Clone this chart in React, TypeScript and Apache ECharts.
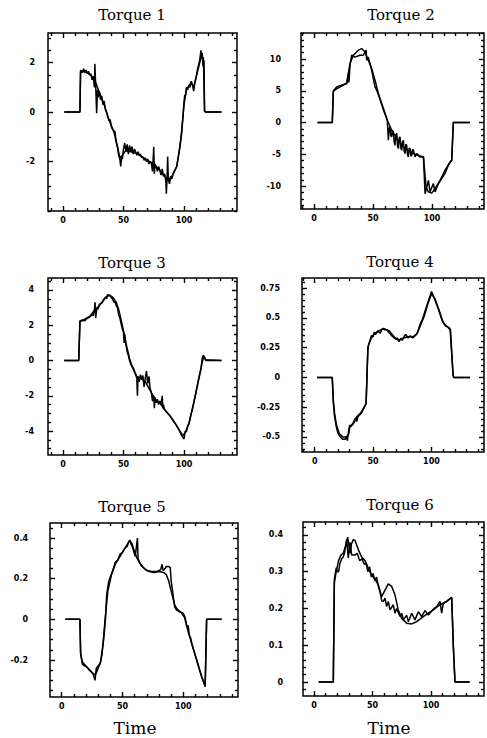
import React, { useEffect, useRef } from "react";
import * as echarts from "echarts";

// ---------- data ----------
const titles = ["Torque 1", "Torque 2", "Torque 3", "Torque 4", "Torque 5", "Torque 6"];
const xAxisTitle = "Time";
const xTicks = [0, 50, 100];
const yTicks1 = [-2, 0, 2];
const yTicks2 = [-10, -5, 0, 5, 10];
const yTicks3 = [-4, -2, 0, 2, 4];
const yTicks4 = [-0.5, -0.25, 0, 0.25, 0.5, 0.75];
const yTicks5 = [-0.2, 0, 0.2, 0.4];
const yTicks6 = [0, 0.1, 0.2, 0.3, 0.4];

// Torque 1
const t1Model: [number, number][] = [[1,0],[14,0],[14.5,1.6],[16,1.65],[20,1.6],[24,1.45],[27,1.2],[30,0.8],[34,0.3],[38,-0.3],[42,-0.8],[45,-1.4],[47,-1.85],[49,-1.75],[52,-1.55],[56,-1.6],[60,-1.65],[65,-1.8],[70,-1.95],[75,-2.1],[80,-2.35],[84,-2.6],[87,-2.75],[90,-2.6],[94,-2.2],[97,-1.3],[100,0.3],[102,0.9],[106,1.2],[108,1.0],[111,1.6],[114,2.2],[116,2.2],[117,0.05],[118,0],[131,0]];
const t1Meas: [number, number][] = [[1,0],[14,0],[14.5,1.7],[16,1.6],[17,1.75],[18,1.6],[19,1.7],[20,1.55],[21,1.65],[22,1.5],[23,1.55],[24,1.3],[25,1.45],[26,1.0],[26.3,1.95],[27,1.1],[27.8,-0.05],[28.5,0.9],[29,0.6],[30,0.85],[31,0.5],[32,0.65],[33,0.3],[34,0.45],[35,0.1],[36,0.0],[37,-0.2],[38,-0.35],[39,-0.3],[40,-0.6],[41,-0.7],[42,-0.75],[43,-0.8],[44,-1.2],[45,-1.4],[46,-1.75],[47,-1.9],[47.7,-2.2],[48.5,-1.8],[49,-1.9],[50,-1.5],[51,-1.25],[52,-1.6],[53,-1.3],[54,-1.7],[55,-1.35],[56,-1.6],[57,-1.4],[58,-1.7],[59,-1.5],[60,-1.6],[61,-1.75],[62,-1.6],[63,-1.75],[64,-1.7],[65,-1.85],[66,-1.8],[67,-1.95],[68,-1.85],[69,-2.0],[70,-1.9],[71,-2.1],[72,-2.0],[73,-2.05],[74,-2.4],[75,-1.4],[75.5,-2.5],[76,-2.1],[77,-2.2],[78,-2.4],[79,-2.2],[80,-2.35],[81,-2.55],[82,-2.3],[83,-2.6],[84,-2.5],[85,-2.8],[85.4,-3.3],[86,-2.7],[86.5,-1.8],[87,-2.7],[88,-2.9],[89,-2.6],[90,-2.7],[91,-2.5],[92,-2.4],[93,-2.3],[94,-2.2],[95,-1.9],[96,-1.6],[97,-1.2],[98,-0.9],[99,-0.3],[100,0.4],[100.6,0.7],[101,0.6],[102,1.0],[103,0.9],[104,1.1],[105,1.0],[106,1.25],[107,1.1],[108,0.85],[109,1.2],[110,1.4],[111,1.7],[112,1.9],[113,2.1],[114,2.5],[114.5,2.2],[115,2.4],[115.7,1.85],[116.5,2.1],[117,0.03],[118,0],[131,0]];

// Torque 2
const t2Model: [number, number][] = [[3,0],[15.5,0],[16.4,4.9],[19,5.3],[23,5.7],[27.7,6.2],[30.5,9.3],[33.3,10.6],[37.6,11.4],[40.4,11.65],[43.2,11.1],[46,9.8],[48.9,8.5],[51.7,6.67],[54.5,4.57],[58.8,2.2],[62.1,0.37],[65.8,-1.2],[70,-2.5],[75.7,-3.8],[81.4,-4.6],[87,-5.1],[92.7,-5.4],[94.9,-10.1],[96.9,-10.9],[99.7,-11.1],[102.5,-10.4],[106.8,-9.1],[111,-7.5],[115.3,-6.2],[116.7,-5.9],[118,0],[132,0]];
const t2Meas: [number, number][] = [[3,0],[15.5,0],[16.4,5.0],[19.2,5.6],[23.4,5.9],[27.7,6.1],[29.1,7.7],[29.6,6.3],[30.5,9.0],[31.9,10.6],[34.7,10.3],[38.9,10.6],[41.8,10.6],[44.1,11.4],[44.6,9.8],[46,10.3],[48.9,8.2],[51.7,5.6],[52.5,5.35],[55,4.2],[58.8,2.0],[62.1,0.4],[63,-2.79],[63.7,-0.9],[64.4,-0.68],[65.1,-2.0],[65.8,-2.26],[66.5,-1.2],[67.2,-1.47],[67.9,-3.0],[68.6,-3.57],[69.3,-1.9],[70.1,-1.73],[70.8,-3.7],[71.5,-4.1],[72.2,-2.4],[72.9,-2.26],[73.6,-4.0],[74.3,-4.36],[75,-3.0],[75.7,-2.79],[76.4,-4.5],[77.1,-4.88],[77.8,-3.4],[78.5,-3.57],[79.2,-5.0],[79.9,-5.4],[80.6,-4.0],[81.4,-4.1],[82.1,-5.3],[82.8,-5.14],[83.5,-4.2],[84.2,-4.36],[85.6,-5.4],[87,-4.88],[89.8,-5.4],[92.7,-5.4],[94.1,-11.2],[96.9,-9.1],[98.3,-10.9],[101.1,-9.6],[102.5,-10.9],[105.4,-9.6],[108.2,-8.8],[111,-8.0],[113.8,-6.7],[116.7,-5.9],[118,0],[132,0]];

// Torque 3
const t3Model: [number, number][] = [[1,0],[13,0],[14,2.2],[17,2.3],[22,2.5],[26,2.85],[30,3.1],[34,3.5],[38,3.72],[41,3.6],[44,3.3],[46,2.9],[49,2.0],[52,1.0],[55,0.1],[58,-0.5],[61,-0.9],[64,-1.0],[68,-1.2],[72,-1.7],[76,-2.2],[80,-2.4],[84,-2.8],[88,-3.1],[92,-3.5],[96,-3.95],[99,-4.25],[101,-4.1],[104,-3.6],[107,-2.7],[110,-1.8],[113,-0.8],[115,-0.1],[116.5,0.25],[118,0.05],[131,0]];
const t3Meas: [number, number][] = [[1,0],[13,0],[14,2.25],[16,2.3],[18,2.25],[20,2.4],[22,2.45],[24,2.6],[25,2.55],[26,2.9],[26.5,3.3],[27,2.4],[28,3.0],[29,2.9],[30,3.2],[32,3.25],[34,3.45],[35,3.6],[36,3.5],[37,3.75],[38,3.65],[39,3.7],[40,3.55],[41,3.5],[42,3.3],[43,3.35],[44,3.1],[45,3.0],[46,2.6],[47,2.4],[48,2.1],[49,1.8],[50,1.6],[50.5,1.0],[51,1.5],[52,0.9],[53,0.5],[54,0.3],[55,0.0],[56,-0.2],[57,-0.35],[58,-0.4],[59,-0.6],[60,-0.8],[61,-1.0],[61.5,-2.0],[62,-0.9],[63,-1.2],[64,-0.8],[65,-1.1],[66,-0.85],[67,-1.5],[68,-1.0],[69,-0.6],[70,-1.3],[71,-0.9],[72,-1.6],[73,-1.8],[74,-2.3],[75,-2.0],[75.5,-2.7],[76,-2.1],[77,-2.4],[78,-2.2],[79,-2.5],[80,-2.3],[81,-2.5],[82,-2.0],[82.5,-2.7],[83,-2.5],[84,-2.8],[86,-2.95],[88,-3.1],[90,-3.3],[92,-3.5],[94,-3.7],[96,-3.95],[98,-4.25],[99,-4.35],[100,-4.45],[101,-4.0],[102,-4.05],[103,-3.7],[104,-3.6],[106,-3.0],[107,-2.75],[109,-2.1],[111,-1.4],[113,-0.75],[114,-0.5],[115,0.1],[116,0.3],[117,0.15],[118,0],[131,0]];

// Torque 4
const t4Model: [number, number][] = [[2,0],[15,0],[16,-0.2],[17,-0.3],[18.6,-0.4],[21,-0.47],[24,-0.5],[27,-0.5],[29,-0.48],[30,-0.42],[33,-0.39],[36,-0.33],[40,-0.29],[44,-0.22],[45.5,0.22],[46,0.27],[48.5,0.33],[51,0.37],[55,0.39],[59,0.41],[64,0.39],[68,0.34],[72,0.31],[76,0.33],[80,0.34],[84,0.34],[87,0.36],[90,0.42],[94,0.52],[97,0.62],[100,0.7],[103,0.66],[107,0.55],[110,0.46],[114,0.42],[116,0.4],[118.5,0.02],[119,0],[133,0]];
const t4Meas: [number, number][] = [[2,0],[15,0],[16,-0.22],[17,-0.33],[18.6,-0.42],[20,-0.47],[22,-0.5],[24,-0.52],[26,-0.52],[27,-0.5],[28,-0.53],[29,-0.45],[30,-0.4],[31,-0.41],[33,-0.38],[35,-0.34],[36,-0.37],[37,-0.33],[40,-0.3],[44,-0.22],[45.5,0.25],[47,0.3],[48.5,0.35],[50,0.34],[51,0.38],[52,0.36],[54,0.39],[56,0.37],[58,0.41],[60,0.4],[62,0.4],[64,0.37],[66,0.35],[68,0.33],[70,0.32],[71,0.33],[72,0.3],[74,0.33],[75,0.31],[77,0.35],[78,0.36],[80,0.33],[82,0.35],[84,0.33],[86,0.35],[88,0.37],[90,0.44],[92,0.48],[94,0.54],[97,0.63],[99,0.69],[100,0.72],[101,0.7],[103,0.65],[106,0.57],[109,0.48],[112,0.43],[115,0.42],[116.3,0.4],[118.5,0.02],[119,0],[133,0]];

// Torque 5
const t5Model: [number, number][] = [[3,0],[15,0],[15.6,-0.17],[17,-0.21],[20,-0.23],[23,-0.25],[26,-0.27],[28,-0.27],[30,-0.24],[32,-0.21],[34,-0.12],[36,0.02],[38,0.14],[41,0.22],[44,0.27],[47,0.3],[50,0.33],[53,0.36],[56,0.39],[58,0.37],[60,0.33],[62,0.3],[65,0.27],[68,0.25],[72,0.235],[76,0.23],[80,0.235],[84,0.23],[86,0.22],[88,0.19],[90,0.14],[93,0.07],[95,0.05],[98,0.035],[101,0.01],[104,-0.06],[107,-0.12],[111,-0.2],[115,-0.28],[118,-0.33],[119.2,0],[131.5,0]];
const t5Meas: [number, number][] = [[3,0],[15,0],[15.6,-0.17],[17,-0.22],[19,-0.23],[21,-0.235],[23,-0.25],[25,-0.26],[26,-0.27],[27.4,-0.3],[28.5,-0.24],[30,-0.23],[31.5,-0.22],[33,-0.18],[34.5,-0.1],[36,0.0],[37,0.12],[38.5,0.18],[40,0.21],[42,0.24],[44,0.28],[46,0.29],[48,0.32],[50,0.33],[52,0.35],[54,0.36],[55,0.38],[56,0.385],[57,0.37],[58,0.36],[59,0.34],[60.5,0.31],[62.3,0.4],[62.8,0.3],[64,0.28],[66,0.26],[68,0.25],[70,0.24],[74,0.235],[78,0.235],[80,0.24],[81.5,0.245],[82.5,0.27],[83.5,0.24],[85,0.25],[86,0.26],[88,0.26],[89.3,0.255],[90,0.19],[91,0.15],[92,0.1],[93,0.06],[94.5,0.045],[96,0.04],[98,0.035],[100,0.03],[101.5,0.01],[103,-0.04],[104,-0.03],[105,-0.08],[106,-0.09],[107,-0.12],[109,-0.16],[111,-0.2],[113,-0.24],[115,-0.28],[117,-0.31],[118,-0.33],[119.2,0],[131.5,0]];

// Torque 6
const t6Model: [number, number][] = [[4,0],[16.5,0],[17.4,0.27],[19,0.3],[21,0.33],[23,0.345],[25,0.35],[27,0.37],[28.8,0.394],[30.8,0.35],[32,0.375],[33.6,0.387],[35,0.385],[37.9,0.36],[40.7,0.34],[43.6,0.33],[46.4,0.31],[49.3,0.29],[52,0.28],[55,0.264],[57.8,0.232],[60.7,0.25],[63.5,0.267],[66.4,0.26],[69.2,0.237],[72,0.196],[74.9,0.173],[79.2,0.16],[83.5,0.158],[87.7,0.164],[93.4,0.178],[97.7,0.187],[102,0.196],[107.7,0.21],[113.4,0.219],[117.7,0.23],[119.1,0.096],[120.5,0],[133,0]];
const t6Meas: [number, number][] = [[4,0],[16.5,0],[17.4,0.28],[19,0.31],[20,0.3],[21,0.3],[22,0.32],[23.6,0.335],[25,0.34],[26,0.35],[27.9,0.387],[29.3,0.337],[30.8,0.38],[32.2,0.345],[35,0.345],[37,0.35],[39,0.33],[41,0.335],[43,0.32],[44.6,0.322],[46,0.3],[47.5,0.313],[49,0.286],[50.5,0.295],[52,0.276],[53.5,0.285],[55,0.26],[56.4,0.245],[58,0.22],[59.3,0.219],[60.7,0.228],[62.1,0.205],[63.5,0.219],[65,0.196],[67.8,0.21],[69.2,0.187],[70.6,0.2],[73.5,0.178],[74.9,0.187],[76.4,0.169],[79.2,0.182],[80.6,0.164],[83.5,0.187],[86.3,0.169],[89.2,0.191],[92,0.178],[94.9,0.194],[97.7,0.182],[102,0.198],[104.8,0.205],[107.7,0.219],[109.1,0.187],[110.5,0.214],[113.4,0.219],[117.7,0.23],[119.1,0.096],[120.5,0],[133,0]];

// ---------- layout ----------
const W = 487;
const H = 738;

type Panel = {
  model: [number, number][];
  meas: [number, number][];
  yTicks: number[];
  yMinorStep: number;
  grid: { left: number; top: number; width: number; height: number };
  xRange: [number, number];
  yRange: [number, number];
  titlePos: [number, number];
  yLabelMargin: number;
};

const panels: Panel[] = [
  { model: t1Model, meas: t1Meas, yTicks: yTicks1, yMinorStep: 0.5, grid: { left: 48, top: 33, width: 189, height: 178 }, xRange: [-12.4, 143.8], yRange: [-4, 3.2], titlePos: [132, 15], yLabelMargin: 13 },
  { model: t2Model, meas: t2Meas, yTicks: yTicks2, yMinorStep: 1, grid: { left: 301, top: 33, width: 183, height: 176 }, xRange: [-11, 144], yRange: [-13.6, 14.1], titlePos: [401, 15], yLabelMargin: 20 },
  { model: t3Model, meas: t3Meas, yTicks: yTicks3, yMinorStep: 0.5, grid: { left: 48, top: 278, width: 189, height: 177 }, xRange: [-12.4, 143.8], yRange: [-5.36, 4.68], titlePos: [132, 263], yLabelMargin: 14 },
  { model: t4Model, meas: t4Meas, yTicks: yTicks4, yMinorStep: 0.05, grid: { left: 302, top: 278, width: 182, height: 174 }, xRange: [-10.9, 145], yRange: [-0.626, 0.834], titlePos: [400, 262], yLabelMargin: 22 },
  { model: t5Model, meas: t5Meas, yTicks: yTicks5, yMinorStep: 0.05, grid: { left: 50, top: 523, width: 188, height: 174 }, xRange: [-9.6, 145], yRange: [-0.382, 0.474], titlePos: [132, 507], yLabelMargin: 22 },
  { model: t6Model, meas: t6Meas, yTicks: yTicks6, yMinorStep: 0.02, grid: { left: 303, top: 522, width: 181, height: 174 }, xRange: [-9.4, 145.3], yRange: [-0.038, 0.435], titlePos: [400, 505], yLabelMargin: 20 },
];
const timeLabelPos: [number, number][] = [[135, 728], [389, 728]];

function minorValues(lo: number, hi: number, step: number, majors: number[]) {
  const out: number[] = [];
  const start = Math.ceil(lo / step);
  const end = Math.floor(hi / step);
  for (let k = start; k <= end; k++) {
    const v = +(k * step).toFixed(6);
    if (!majors.some((m) => Math.abs(m - v) < 1e-9)) out.push(v);
  }
  return out;
}

const labelFont = { fontFamily: "DejaVu Sans", fontWeight: "bold" as const, fontSize: 8, color: "#000" };
const tickLine = { color: "#000", width: 1.4 };

function buildOption() {
  const grid: any[] = [];
  const xAxis: any[] = [];
  const yAxis: any[] = [];
  const series: any[] = [];
  const graphic: any[] = [];

  panels.forEach((p, i) => {
    grid.push({
      ...p.grid,
      show: true,
      borderColor: "#000",
      borderWidth: 1.5,
      backgroundColor: "transparent",
      containLabel: false,
    });
    const xMinor = minorValues(p.xRange[0], p.xRange[1], 10, xTicks);
    const yMinor = minorValues(p.yRange[0], p.yRange[1], p.yMinorStep, p.yTicks);
    const xDefs = [
      { pos: "bottom", vals: xTicks, len: 5, label: true },
      { pos: "top", vals: xTicks, len: 5, label: false },
      { pos: "bottom", vals: xMinor, len: 3, label: false },
      { pos: "top", vals: xMinor, len: 3, label: false },
    ];
    xDefs.forEach((d) => {
      xAxis.push({
        type: "value",
        gridIndex: i,
        min: p.xRange[0],
        max: p.xRange[1],
        position: d.pos,
        axisLine: { show: false, onZero: false },
        splitLine: { show: false },
        axisTick: { show: true, inside: true, length: d.len, customValues: d.vals, lineStyle: tickLine },
        axisLabel: d.label
          ? { show: true, customValues: d.vals, margin: 5, ...labelFont }
          : { show: false },
      });
    });
    const yDefs = [
      { pos: "left", vals: p.yTicks, len: 5, label: true },
      { pos: "right", vals: p.yTicks, len: 5, label: false },
      { pos: "left", vals: yMinor, len: 3, label: false },
      { pos: "right", vals: yMinor, len: 3, label: false },
    ];
    yDefs.forEach((d) => {
      yAxis.push({
        type: "value",
        gridIndex: i,
        min: p.yRange[0],
        max: p.yRange[1],
        position: d.pos,
        axisLine: { show: false, onZero: false },
        splitLine: { show: false },
        axisTick: { show: true, inside: true, length: d.len, customValues: d.vals, lineStyle: tickLine },
        axisLabel: d.label
          ? { show: true, customValues: d.vals, margin: p.yLabelMargin, ...labelFont }
          : { show: false },
      });
    });
    [p.model, p.meas].forEach((data) => {
      series.push({
        type: "line",
        xAxisIndex: i * 4,
        yAxisIndex: i * 4,
        data,
        showSymbol: false,
        symbol: "none",
        silent: true,
        clip: true,
        lineStyle: { color: "#000", width: 1.5 },
      });
    });
    graphic.push({
      type: "text",
      x: p.titlePos[0],
      y: p.titlePos[1],
      style: {
        text: titles[i],
        fill: "#000",
        font: "15px 'DejaVu Serif'",
        textAlign: "center",
        textVerticalAlign: "middle",
      },
    });
  });

  timeLabelPos.forEach((pos) => {
    graphic.push({
      type: "text",
      x: pos[0],
      y: pos[1],
      style: {
        text: xAxisTitle,
        fill: "#000",
        font: "17px 'DejaVu Serif'",
        textAlign: "center",
        textVerticalAlign: "middle",
      },
    });
  });

  return {
    animation: false,
    backgroundColor: "#fff",
    grid,
    xAxis,
    yAxis,
    series,
    graphic,
  };
}

export default function App() {
  const ref = useRef<HTMLDivElement>(null);
  useEffect(() => {
    if (!ref.current) return;
    const chart = echarts.init(ref.current, undefined, { renderer: "svg", width: W, height: H });
    chart.setOption(buildOption() as any);
    return () => chart.dispose();
  }, []);
  return (
    <div
      ref={ref}
      style={{ position: "fixed", left: 0, top: 0, width: W, height: H, background: "#fff" }}
    />
  );
}
